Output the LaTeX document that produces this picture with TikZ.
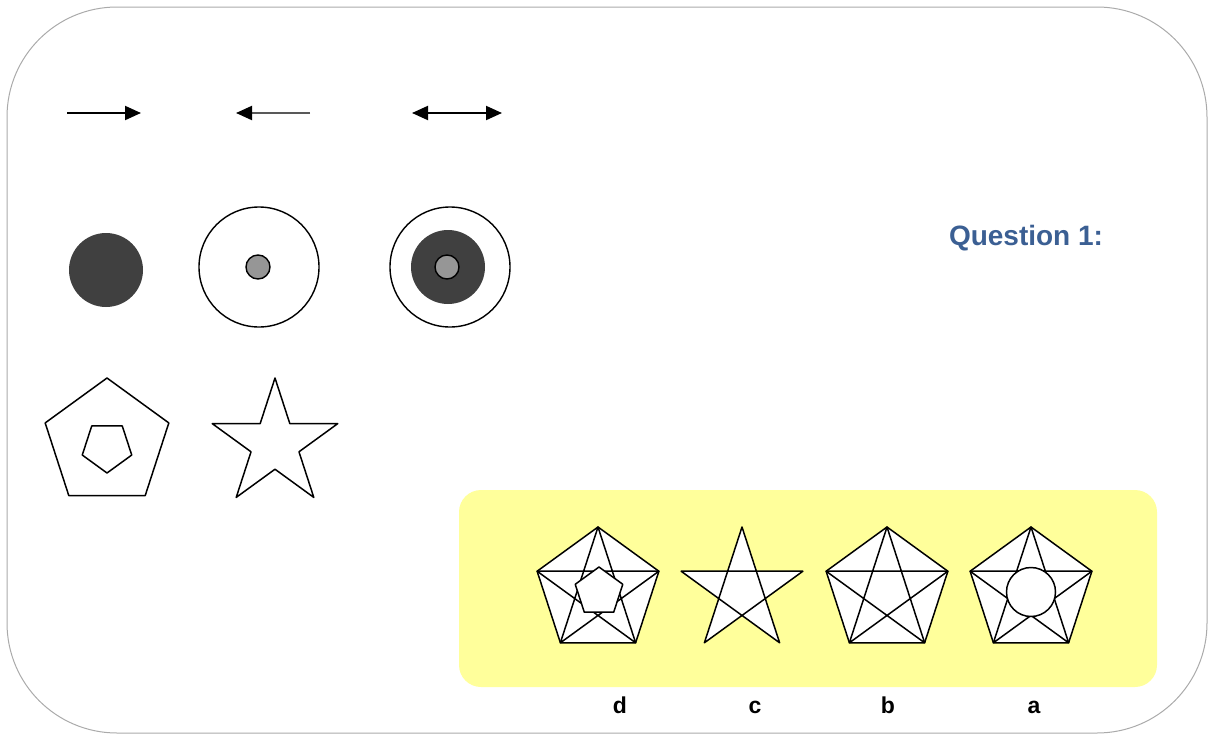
\documentclass[tikz,border=0pt]{standalone}
\usepackage{fontspec}
\setmainfont{Liberation Sans}
\usetikzlibrary{shapes.geometric, arrows.meta}
\definecolor{frameGray}{RGB}{170,170,170}
\definecolor{darkDisk}{RGB}{64,64,64}
\definecolor{midDot}{RGB}{150,150,150}
\definecolor{paleYellow}{RGB}{255,255,155}
\definecolor{qBlue}{RGB}{59,95,147}

\begin{document}
\begin{tikzpicture}[x=1pt, y=-1pt,
        arr/.style={line width=2pt, -{Triangle[length=16pt, width=14pt, black]}},
        arrboth/.style={line width=2pt, {Triangle[length=16pt, width=14pt]}-{Triangle[length=16pt, width=14pt]}},
        disk/.style={circle, fill=darkDisk, inner sep=0pt, outer sep=0pt, minimum size=74pt},
        ring/.style={circle, draw, line width=1.4pt, inner sep=0pt, outer sep=0pt, minimum size=120pt},
        dot/.style={circle, draw, fill=midDot, line width=1.4pt, inner sep=0pt, outer sep=0pt, minimum size=24pt},
        penta/.style={regular polygon, regular polygon sides=5, draw, line width=1.5pt, line join=round, inner sep=0pt, outer sep=0pt},
        choice/.style={penta, fill=white, minimum size=128pt},
        guide/.style={regular polygon, regular polygon sides=5, inner sep=0pt, outer sep=0pt, minimum size=128pt},
        gram/.style={line width=1.5pt, line join=round},
        lbl/.style={font=\fontsize{23}{27}\selectfont\bfseries, anchor=base}
    ]
        \useasboundingbox (0,0) rectangle (1208,734);
        \draw[frameGray, line width=1pt, rounded corners=110pt] (7,7) rectangle (1207,733);

        % === Arrows ===
        \coordinate (r1) at (67,113);  \coordinate (r2) at (141,113);
        \coordinate (l1) at (310,113); \coordinate (l2) at (236,113);
        \coordinate (d1) at (412,113); \coordinate (d2) at (502,113);
        \draw[arr] (r1) -- (r2);
        \draw[arr, black!65] (l1) -- (l2);
        \draw[arrboth] (d1) -- (d2);

        % === Circles ===
        \node[disk] (C1) at (106,270) {};
        \node[ring] (C2) at (259,267) {};
        \node[dot] (C2in) at (258,267) {};
        \node[ring] (C3) at (450,267) {};
        \node[disk] (C3mid) at (448,267) {};
        \node[dot] (C3in) at (447,267) {};

        % === Pentagon and star ===
        \node[penta, minimum size=130pt] (P1) at (107,443) {};
        \node[penta, minimum size=52pt, shape border rotate=180] (P1in) at (107,447) {};
        \node[star, star points=5, star point ratio=2.618, draw, line width=1.5pt, line join=round,
              inner sep=0pt, outer sep=0pt, minimum size=132pt] (S1) at (275,444) {};

        \node at (1026,245) [anchor=base, text=qBlue, font=\fontsize{28}{32}\selectfont\bfseries] (Q) {Question 1:};

        % === Answer box ===
        \fill[paleYellow, rounded corners=22pt] (459,490) rectangle (1157,687);

        % d
        \node[choice] (Pd) at (598,591) {};
        \draw[gram] (Pd.corner 1) -- (Pd.corner 3) -- (Pd.corner 5) -- (Pd.corner 2) -- (Pd.corner 4) -- cycle;
        \node[penta, fill=white, minimum size=50pt] (Pdin) at (599,592) {};

        % c
        \node[guide] (Pc) at (742,591) {};
        \draw[gram, fill=white] (Pc.corner 1) -- (Pc.corner 3) -- (Pc.corner 5) -- (Pc.corner 2) -- (Pc.corner 4) -- cycle;

        % b
        \node[choice] (Pb) at (887,591) {};
        \draw[gram] (Pb.corner 1) -- (Pb.corner 3) -- (Pb.corner 5) -- (Pb.corner 2) -- (Pb.corner 4) -- cycle;

        % a
        \node[choice] (Pa) at (1031,591) {};
        \draw[gram] (Pa.corner 1) -- (Pa.corner 3) -- (Pa.corner 5) -- (Pa.corner 2) -- (Pa.corner 4) -- cycle;
        \node[circle, draw, fill=white, line width=1.5pt, inner sep=0pt, minimum size=49pt] (Ca) at (1031,592) {};

        \node[lbl] (Ld) at (620,713) {d};
        \node[lbl] (Lc) at (755,713) {c};
        \node[lbl] (Lb) at (888,713) {b};
        \node[lbl] (La) at (1034,713) {a};
    \end{tikzpicture}
\end{document}
